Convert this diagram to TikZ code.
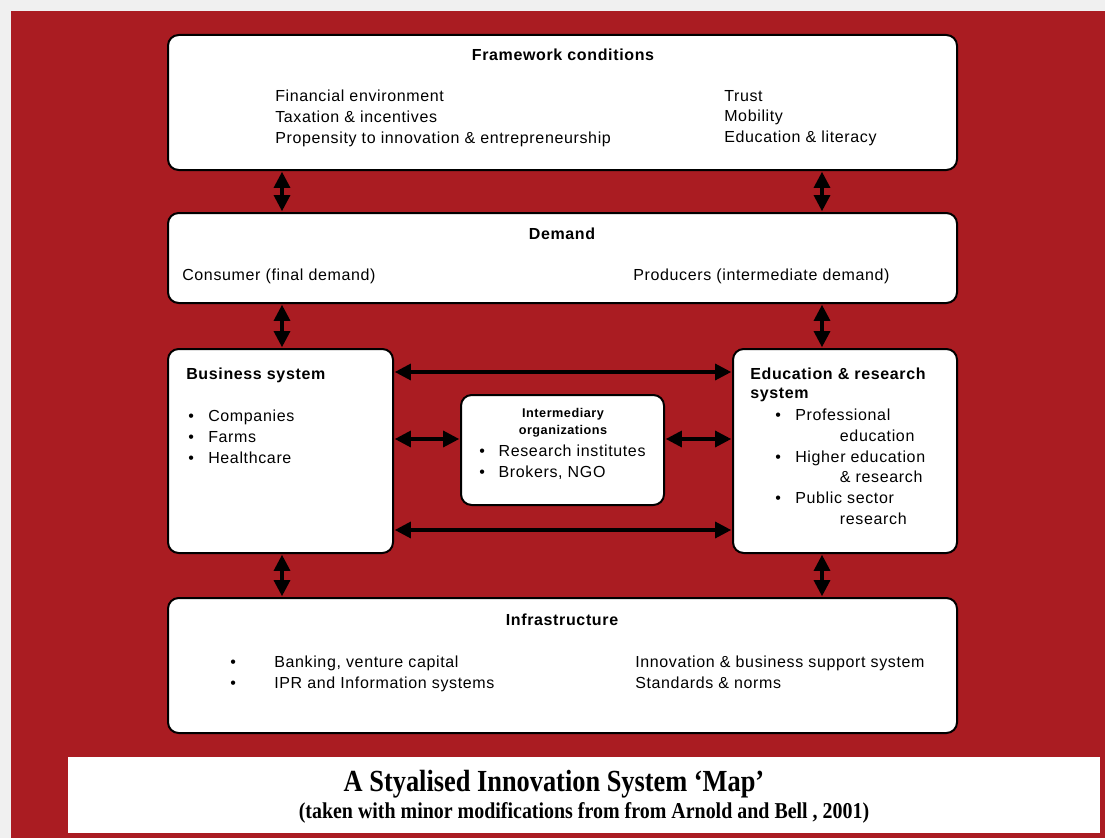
\documentclass[tikz,border=0pt]{standalone}
\usepackage{fontspec}
\setmainfont{Liberation Sans}[LetterSpace=4]
\newfontfamily\capfont{Liberation Serif}[FakeStretch=0.86]
\newfontfamily\subfont{Liberation Serif}[FakeStretch=0.88]
\usetikzlibrary{positioning, arrows.meta, fit}
\definecolor{mapred}{HTML}{AA1C22}
\definecolor{pagegray}{HTML}{F0F0F0}

% bullet of a given width
\newcommand{\bul}[1][15pt]{\makebox[#1][l]{\textbullet}}

\begin{document}
\begin{tikzpicture}[%
		x=0.75pt, y=-0.75pt,
		sysbox/.style={
			rectangle,
			rounded corners=8pt,
			line width=1.5pt,
			black,
			fill=white,
			inner sep=0pt,
			draw
		},
		head/.style={
			font=\bfseries\fontsize{12}{14}\selectfont,
			inner sep=0pt,
			anchor=north
		},
		items/.style={
			font=\fontsize{12}{15.5}\selectfont,
			align=left,
			inner sep=0pt,
			anchor=north west
		},
		dblarrow/.style={
			line width=2.3pt,
			{Triangle[length=12pt,width=12pt]}-{Triangle[length=12pt,width=12pt]},
			shorten <=0.6pt, shorten >=0.6pt
		}]

		% BACKGROUND
		\fill[pagegray] (0,0) rectangle (1105,838);
		\fill[mapred] (11,11) rectangle (1105,838);
		\useasboundingbox (0,0) rectangle (1105,838);

		% BOXES
		\node (frame) [sysbox, fit={(168,35) (957,170)}] {};
		\node (demand) [sysbox, fit={(168,213) (957,303)}] {};
		\node (busi) [sysbox, fit={(168,349) (393,553)}] {};
		\node (inter) [sysbox, fit={(461,395) (664,505)}] {};
		\node (edu) [sysbox, fit={(733,349) (957,553)}] {};
		\node (infra) [sysbox, fit={(168,598) (957,733)}] {};

		% FRAMEWORK
		\node (frameT) [head] at (563,49) {Framework conditions};
		\node (frameL) [items] at (275,90) {Financial environment\\Taxation \& incentives\\Propensity to innovation \& entrepreneurship};
		\node (frameR) [items] at (724,90) {Trust\\Mobility\\Education \& literacy};

		% DEMAND
		\node (demandT) [head] at (562,228) {Demand};
		\node (demandL) [items] at (182,269) {Consumer (final demand)};
		\node (demandR) [items] at (633,269) {Producers (intermediate demand)};

		% BUSINESS
		\node (busiT) [head, anchor=north west] at (186,368) {Business system};
		\node (busiL) [items] at (188,410) {\bul[15pt]Companies\\\bul[15pt]Farms\\\bul[15pt]Healthcare};

		% INTERMEDIARY
		\node (interT) [head, font=\bfseries\fontsize{9.5}{12.5}\selectfont, align=center] at (563,408) {Intermediary\\organizations};
		\node (interL) [items] at (479,445) {\bul[14.5pt]Research institutes\\\bul[14.5pt]Brokers, NGO};

		% EDUCATION
		\node (eduT) [head, anchor=north west, align=left] at (750,368) {Education \& research\\system};
		\node (eduL) [items] at (775,409) {\bul[15pt]Professional\\\hspace{48.5pt}education\\\bul[15pt]Higher education\\\hspace{48.5pt}\& research\\\bul[15pt]Public sector\\\hspace{48.5pt}research};

		% INFRASTRUCTURE
		\node (infraT) [head] at (562,614) {Infrastructure};
		\node (infraL) [items] at (230,656) {\bul[33pt]Banking, venture capital\\\bul[33pt]IPR and Information systems};
		\node (infraR) [items] at (635,656) {Innovation \& business support system\\Standards \& norms};

		% ARROWS
		\coordinate (cl) at (282,0);
		\coordinate (cr) at (822,0);
		\coordinate (rtop) at (0,372);
		\coordinate (rmid) at (0,439);
		\coordinate (rbot) at (0,530);

		\draw[dblarrow] (frame.south -| cl) -- (demand.north -| cl);
		\draw[dblarrow] (frame.south -| cr) -- (demand.north -| cr);
		\draw[dblarrow] (demand.south -| cl) -- (busi.north -| cl);
		\draw[dblarrow] (demand.south -| cr) -- (edu.north -| cr);
		\draw[dblarrow] (busi.south -| cl) -- (infra.north -| cl);
		\draw[dblarrow] (edu.south -| cr) -- (infra.north -| cr);

		\draw[dblarrow] (busi.east |- rtop) -- (edu.west |- rtop);
		\draw[dblarrow] (busi.east |- rbot) -- (edu.west |- rbot);
		\draw[dblarrow] (busi.east |- rmid) -- (inter.west |- rmid);
		\draw[dblarrow] (inter.east |- rmid) -- (edu.west |- rmid);

		% CAPTION
		\node (capbox) [rectangle, fill=white, inner sep=0pt, fit={(68,757) (1100,833)}] {};
		\node (capT) [anchor=base, font=\capfont\bfseries\fontsize{23}{26}\selectfont] at (554,791) {A Styalised Innovation System ‘Map’};
		\node (capS) [anchor=base, font=\subfont\bfseries\fontsize{17}{19}\selectfont] at (584,818) {(taken with minor modifications from from Arnold and Bell , 2001)};
\end{tikzpicture}
\end{document}
